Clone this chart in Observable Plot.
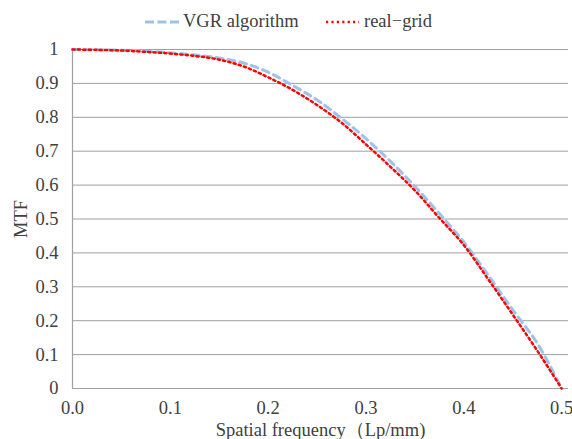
<!DOCTYPE html>
<html><head><meta charset="utf-8">
<script src="https://cdn.jsdelivr.net/npm/d3@7"></script>
<script src="https://cdn.jsdelivr.net/npm/@observablehq/plot@0.6"></script>
<style>
body{margin:0;background:#fff;font-family:"Liberation Serif",serif;}
#wrap{position:relative;width:572px;height:439px;}
#legend{position:relative;height:40px;width:572px;}
.lg{position:absolute;top:10px;font-size:18.5px;color:#404040;white-space:nowrap;line-height:22px;}
.sw{position:absolute;top:10px;}
#chart svg text{font-family:"Liberation Serif",serif;font-variant:normal;}
</style></head>
<body><div id="wrap"><div id="legend"></div><div id="chart"></div></div>
<script>
const freq = [0,0.025,0.05,0.075,0.1,0.125,0.15,0.175,0.2,0.225,0.25,0.275,0.3,0.325,0.35,0.375,0.4,0.425,0.45,0.475,0.5];
const vgr  = [1.0,0.999,0.998,0.995,0.990,0.984,0.975,0.960,0.933,0.894,0.851,0.797,0.737,0.670,0.596,0.516,0.432,0.334,0.232,0.134,0.0];
const real = [1.0,0.999,0.997,0.993,0.988,0.981,0.970,0.950,0.918,0.881,0.836,0.784,0.720,0.654,0.584,0.503,0.423,0.322,0.218,0.112,0.0];
const seriesNames = ["VGR algorithm","real\u2212grid"];
const seriesColors = ["#9DC3E6","#FF0000"];
const xTicks = [0,0.1,0.2,0.3,0.4,0.5];
const yTicks = [0,0.1,0.2,0.3,0.4,0.5,0.6,0.7,0.8,0.9,1];

const rows = [];
freq.forEach((f,i)=>{rows.push({f,v:vgr[i],s:seriesNames[0]});});
freq.forEach((f,i)=>{rows.push({f,v:real[i],s:seriesNames[1]});});

// legend
const lg = document.getElementById("legend");
lg.innerHTML = `
<svg class="sw" style="left:145px" width="34" height="22"><line x1="0" y1="12" x2="34" y2="12" stroke="${seriesColors[0]}" stroke-width="3" stroke-dasharray="9,3.5"/></svg>
<div class="lg" style="left:183px">${seriesNames[0]}</div>
<svg class="sw" style="left:325px" width="34" height="22"><line x1="1" y1="12" x2="34" y2="12" stroke="${seriesColors[1]}" stroke-width="2.5" stroke-dasharray="2.2,3.2"/></svg>
<div class="lg" style="left:364px">${seriesNames[1]}</div>`;

const gray = "#a0a0a0";
const ff = "Liberation Serif";
const chart = Plot.plot({
  width: 572, height: 399,
  marginLeft: 72, marginRight: 4, marginTop: 9, marginBottom: 51,
  style: {fontFamily: ff, fontSize: "18.5px", color: "#404040", background: "#fff"},
  x: {domain: [0, 0.507]},
  y: {domain: [0, 1]},
  marks: [
    Plot.gridY(yTicks, {stroke: gray, strokeOpacity: 1, strokeWidth: 1}),
    Plot.ruleX([0], {stroke: gray, strokeWidth: 1.2}),
    Plot.ruleY([0], {stroke: gray, strokeWidth: 1.2}),
    Plot.axisY(yTicks, {tickSize: 0, tickPadding: 14, fontFamily: ff, fontSize: 18.5, fontVariant: "normal", tickFormat: d => String(+d.toFixed(1)), label: "MTF", labelAnchor: "center", labelArrow: "none", labelOffset: 59}),
    Plot.axisX(xTicks, {tickSize: 0, tickPadding: 12, fontFamily: ff, fontSize: 18.5, fontVariant: "normal", tickFormat: d => d.toFixed(1), label: "Spatial frequency\uFF08Lp/mm)", labelAnchor: "center", labelArrow: "none", labelOffset: 47}),
    Plot.line(rows.filter(d=>d.s===seriesNames[0]), {x: "f", y: "v", stroke: seriesColors[0], strokeWidth: 3, strokeDasharray: "7,5", curve: "catmull-rom"}),
    Plot.line(rows.filter(d=>d.s===seriesNames[1]), {x: "f", y: "v", stroke: seriesColors[1], strokeWidth: 2.5, strokeDasharray: "2.2,3.2", curve: "catmull-rom"})
  ]
});
document.getElementById("chart").appendChild(chart);
</script></body></html>
